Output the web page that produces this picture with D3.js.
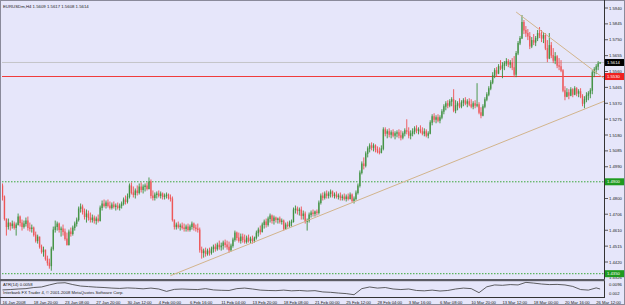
<!DOCTYPE html>
<html>
<head>
<meta charset="utf-8">
<script src="https://cdn.jsdelivr.net/npm/d3@7"></script>
<style>
  body { margin: 0; background: #e6e6fa; }
  svg { display: block; }
  text { font-family: "Liberation Sans", Arial, sans-serif; }
</style>
</head>
<body>
<svg id="chart" width="625" height="305"></svg>
<script>
// EURUSD H4 bars (open = previous close)
const symbol = "EURUSDm,H4";
const lastQuote = [1.5609, 1.5617, 1.5608, 1.5614];
const firstOpen = 1.4878;

const highs = [
  1.4890,1.4818,1.4668,1.4680,1.4656,1.4668,1.4662,1.4656,1.4710,1.4698,
  1.4674,1.4668,1.4686,1.4692,1.4656,1.4644,1.4632,1.4602,1.4584,1.4572,
  1.4524,1.4512,1.4494,1.4458,1.4440,1.4512,1.4632,1.4668,1.4662,1.4656,
  1.4632,1.4644,1.4620,1.4596,1.4614,1.4626,1.4638,1.4662,1.4686,1.4752,
  1.4770,1.4764,1.4740,1.4734,1.4728,1.4716,1.4704,1.4698,1.4692,1.4704,
  1.4758,1.4788,1.4794,1.4788,1.4794,1.4782,1.4776,1.4782,1.4770,1.4776,
  1.4770,1.4782,1.4806,1.4818,1.4830,1.4890,1.4896,1.4872,1.4860,1.4878,
  1.4890,1.4896,1.4884,1.4890,1.4896,1.4926,1.4914,1.4848,1.4836,1.4842,
  1.4848,1.4842,1.4836,1.4830,1.4836,1.4830,1.4824,1.4812,1.4668,1.4656,
  1.4662,1.4650,1.4656,1.4650,1.4644,1.4650,1.4644,1.4662,1.4656,1.4644,
  1.4650,1.4626,1.4512,1.4500,1.4506,1.4500,1.4506,1.4512,1.4524,1.4530,
  1.4536,1.4548,1.4536,1.4548,1.4554,1.4548,1.4542,1.4530,1.4566,1.4608,
  1.4602,1.4596,1.4590,1.4590,1.4584,1.4578,1.4584,1.4572,1.4578,1.4572,
  1.4608,1.4626,1.4638,1.4656,1.4674,1.4680,1.4692,1.4710,1.4704,1.4698,
  1.4692,1.4686,1.4692,1.4680,1.4674,1.4656,1.4662,1.4668,1.4674,1.4746,
  1.4758,1.4752,1.4746,1.4752,1.4728,1.4722,1.4680,1.4716,1.4728,1.4734,
  1.4728,1.4734,1.4788,1.4830,1.4836,1.4842,1.4848,1.4842,1.4854,1.4848,
  1.4836,1.4842,1.4830,1.4836,1.4824,1.4830,1.4824,1.4830,1.4836,1.4830,
  1.4812,1.4848,1.4890,1.4968,1.5022,1.5046,1.5082,1.5112,1.5130,1.5136,
  1.5130,1.5124,1.5112,1.5106,1.5118,1.5226,1.5226,1.5214,1.5220,1.5208,
  1.5214,1.5202,1.5208,1.5214,1.5208,1.5202,1.5220,1.5274,1.5226,1.5208,
  1.5220,1.5232,1.5238,1.5226,1.5238,1.5226,1.5220,1.5214,1.5202,1.5268,
  1.5304,1.5310,1.5298,1.5304,1.5298,1.5334,1.5364,1.5382,1.5388,1.5394,
  1.5406,1.5454,1.5388,1.5382,1.5400,1.5388,1.5400,1.5406,1.5394,1.5400,
  1.5394,1.5382,1.5388,1.5490,1.5376,1.5346,1.5364,1.5406,1.5436,1.5472,
  1.5508,1.5556,1.5580,1.5586,1.5604,1.5628,1.5616,1.5622,1.5640,1.5634,
  1.5628,1.5640,1.5652,1.5682,1.5742,1.5772,1.5898,1.5868,1.5832,1.5814,
  1.5796,1.5766,1.5784,1.5772,1.5808,1.5826,1.5808,1.5796,1.5790,1.5748,
  1.5790,1.5736,1.5700,1.5676,1.5658,1.5640,1.5628,1.5574,1.5472,1.5460,
  1.5454,1.5466,1.5460,1.5472,1.5466,1.5454,1.5460,1.5424,1.5412,1.5436,
  1.5442,1.5460,1.5568,1.5586,1.5604,1.5622,1.5617
];

const lows = [
  1.4788,1.4668,1.4578,1.4614,1.4608,1.4620,1.4614,1.4578,1.4638,1.4632,
  1.4608,1.4620,1.4632,1.4608,1.4602,1.4596,1.4572,1.4536,1.4530,1.4500,
  1.4470,1.4452,1.4428,1.4398,1.4380,1.4368,1.4488,1.4596,1.4608,1.4596,
  1.4572,1.4578,1.4548,1.4518,1.4518,1.4572,1.4578,1.4608,1.4632,1.4662,
  1.4716,1.4704,1.4674,1.4656,1.4668,1.4656,1.4656,1.4650,1.4644,1.4656,
  1.4662,1.4728,1.4746,1.4740,1.4746,1.4734,1.4734,1.4740,1.4728,1.4734,
  1.4728,1.4740,1.4758,1.4764,1.4770,1.4800,1.4824,1.4806,1.4800,1.4818,
  1.4824,1.4836,1.4830,1.4842,1.4848,1.4854,1.4800,1.4788,1.4788,1.4800,
  1.4806,1.4800,1.4794,1.4794,1.4800,1.4794,1.4782,1.4662,1.4614,1.4614,
  1.4620,1.4608,1.4614,1.4602,1.4602,1.4602,1.4602,1.4614,1.4608,1.4602,
  1.4596,1.4476,1.4440,1.4446,1.4452,1.4458,1.4458,1.4464,1.4476,1.4482,
  1.4488,1.4494,1.4488,1.4494,1.4506,1.4494,1.4476,1.4482,1.4506,1.4542,
  1.4548,1.4536,1.4530,1.4536,1.4530,1.4530,1.4536,1.4530,1.4530,1.4536,
  1.4554,1.4572,1.4584,1.4596,1.4620,1.4626,1.4632,1.4656,1.4650,1.4644,
  1.4656,1.4650,1.4650,1.4644,1.4608,1.4614,1.4626,1.4626,1.4632,1.4656,
  1.4710,1.4704,1.4698,1.4674,1.4674,1.4650,1.4608,1.4656,1.4686,1.4692,
  1.4692,1.4698,1.4704,1.4764,1.4788,1.4794,1.4800,1.4800,1.4806,1.4806,
  1.4800,1.4800,1.4794,1.4788,1.4788,1.4788,1.4782,1.4788,1.4794,1.4776,
  1.4770,1.4788,1.4824,1.4866,1.4944,1.4974,1.4986,1.5046,1.5076,1.5088,
  1.5082,1.5076,1.5070,1.5064,1.5070,1.5088,1.5172,1.5160,1.5166,1.5160,
  1.5166,1.5154,1.5166,1.5160,1.5148,1.5154,1.5172,1.5184,1.5160,1.5154,
  1.5172,1.5184,1.5190,1.5184,1.5190,1.5178,1.5172,1.5166,1.5160,1.5184,
  1.5238,1.5256,1.5250,1.5256,1.5250,1.5274,1.5304,1.5328,1.5340,1.5346,
  1.5352,1.5316,1.5310,1.5328,1.5340,1.5340,1.5352,1.5358,1.5346,1.5352,
  1.5340,1.5334,1.5340,1.5346,1.5304,1.5280,1.5292,1.5340,1.5382,1.5412,
  1.5448,1.5484,1.5520,1.5532,1.5544,1.5568,1.5520,1.5568,1.5592,1.5586,
  1.5580,1.5568,1.5526,1.5526,1.5658,1.5718,1.5754,1.5784,1.5766,1.5748,
  1.5694,1.5700,1.5718,1.5712,1.5742,1.5760,1.5736,1.5730,1.5688,1.5616,
  1.5634,1.5640,1.5610,1.5604,1.5580,1.5568,1.5556,1.5436,1.5388,1.5406,
  1.5394,1.5412,1.5406,1.5418,1.5412,1.5406,1.5400,1.5352,1.5340,1.5376,
  1.5388,1.5400,1.5424,1.5526,1.5544,1.5568,1.5608
];

const closes = [
  1.4812,1.4680,1.4632,1.4656,1.4638,1.4650,1.4626,1.4644,1.4692,1.4656,
  1.4632,1.4650,1.4668,1.4626,1.4620,1.4626,1.4584,1.4548,1.4572,1.4512,
  1.4482,1.4494,1.4440,1.4416,1.4398,1.4500,1.4614,1.4632,1.4650,1.4614,
  1.4620,1.4602,1.4560,1.4524,1.4602,1.4590,1.4626,1.4650,1.4674,1.4740,
  1.4752,1.4722,1.4692,1.4710,1.4686,1.4674,1.4686,1.4668,1.4680,1.4668,
  1.4746,1.4770,1.4758,1.4776,1.4758,1.4746,1.4764,1.4752,1.4758,1.4746,
  1.4758,1.4770,1.4794,1.4782,1.4812,1.4878,1.4836,1.4824,1.4848,1.4836,
  1.4872,1.4854,1.4872,1.4878,1.4860,1.4902,1.4818,1.4806,1.4824,1.4830,
  1.4818,1.4830,1.4812,1.4818,1.4824,1.4806,1.4800,1.4674,1.4632,1.4644,
  1.4632,1.4638,1.4626,1.4620,1.4632,1.4614,1.4632,1.4650,1.4626,1.4620,
  1.4614,1.4494,1.4476,1.4488,1.4470,1.4488,1.4476,1.4500,1.4512,1.4500,
  1.4524,1.4512,1.4518,1.4536,1.4524,1.4512,1.4494,1.4518,1.4554,1.4596,
  1.4566,1.4548,1.4572,1.4554,1.4542,1.4566,1.4548,1.4560,1.4548,1.4566,
  1.4596,1.4614,1.4602,1.4644,1.4662,1.4644,1.4680,1.4698,1.4668,1.4686,
  1.4674,1.4680,1.4662,1.4668,1.4620,1.4644,1.4638,1.4656,1.4662,1.4734,
  1.4740,1.4728,1.4734,1.4698,1.4710,1.4662,1.4668,1.4704,1.4716,1.4710,
  1.4722,1.4716,1.4776,1.4818,1.4806,1.4830,1.4818,1.4830,1.4842,1.4818,
  1.4824,1.4812,1.4818,1.4806,1.4812,1.4800,1.4812,1.4800,1.4824,1.4788,
  1.4800,1.4836,1.4878,1.4956,1.5010,1.4998,1.5070,1.5100,1.5118,1.5106,
  1.5118,1.5094,1.5082,1.5076,1.5100,1.5214,1.5190,1.5202,1.5184,1.5196,
  1.5178,1.5190,1.5196,1.5178,1.5166,1.5190,1.5208,1.5202,1.5178,1.5190,
  1.5202,1.5220,1.5208,1.5214,1.5202,1.5190,1.5202,1.5178,1.5190,1.5256,
  1.5292,1.5274,1.5286,1.5268,1.5286,1.5322,1.5352,1.5370,1.5358,1.5382,
  1.5394,1.5328,1.5358,1.5370,1.5352,1.5376,1.5388,1.5370,1.5382,1.5364,
  1.5352,1.5370,1.5358,1.5364,1.5316,1.5298,1.5352,1.5394,1.5424,1.5460,
  1.5496,1.5538,1.5568,1.5550,1.5592,1.5580,1.5598,1.5610,1.5622,1.5604,
  1.5616,1.5586,1.5544,1.5670,1.5730,1.5760,1.5856,1.5808,1.5790,1.5772,
  1.5712,1.5748,1.5736,1.5760,1.5790,1.5778,1.5760,1.5778,1.5700,1.5640,
  1.5718,1.5658,1.5628,1.5652,1.5598,1.5592,1.5568,1.5448,1.5412,1.5436,
  1.5418,1.5454,1.5424,1.5460,1.5430,1.5442,1.5412,1.5370,1.5394,1.5418,
  1.5430,1.5448,1.5556,1.5574,1.5592,1.5609,1.5614
];

// one time label every 16 bars
const timeLabels = [
  "16 Jan 2008", "18 Jan 20:00", "23 Jan 08:00", "27 Jan 20:00", "30 Jan 12:00",
  "4 Feb 00:00", "6 Feb 16:00", "11 Feb 04:00", "13 Feb 20:00", "18 Feb 08:00",
  "21 Feb 00:00", "25 Feb 12:00", "28 Feb 04:00", "3 Mar 16:00", "6 Mar 08:00",
  "10 Mar 20:00", "13 Mar 12:00", "18 Mar 00:00", "20 Mar 16:00", "26 Mar 12:00"
];
const labelStep = 16;

// 1.4895 sits under the 1.4900 box and is not visible, so it is left out
const priceTicks = [
  1.5940, 1.5845, 1.5750, 1.5655, 1.5560, 1.5465, 1.5370, 1.5275, 1.5180,
  1.5085, 1.4990, 1.4800, 1.4706, 1.4610, 1.4515, 1.4420
];
const bottomPrice = 1.4326;

// ATR(14), read every 4 bars, last value on the final bar
const atrValues = [
  0.0053,0.0055,0.0058,0.0060,0.0066,0.0069,0.0080,0.0090,0.0092,0.0082,
  0.0074,0.0071,0.0068,0.0066,0.0063,0.0061,0.0064,0.0062,0.0059,0.0063,
  0.0058,0.0045,0.0056,0.0058,0.0056,0.0055,0.0060,0.0053,0.0051,0.0050,
  0.0060,0.0063,0.0058,0.0052,0.0050,0.0049,0.0052,0.0048,0.0050,0.0047,
  0.0049,0.0042,0.0040,0.0036,0.0033,0.0027,0.0060,0.0069,0.0063,0.0066,
  0.0058,0.0055,0.0058,0.0050,0.0048,0.0052,0.0047,0.0050,0.0058,0.0063,
  0.0060,0.0038,0.0070,0.0080,0.0078,0.0082,0.0080,0.0094,0.0090,0.0085,
  0.0082,0.0083,0.0080,0.0072,0.0055,0.0052,0.0064,0.0058
];
const atrStep = 4;
const atrMax = 0.0096, atrMin = 0.002;

// horizontal objects
const levels = [
  { price: 1.5614, kind: "bid" },
  { price: 1.5530, kind: "alert" },
  { price: 1.4900, kind: "support" },
  { price: 1.4350, kind: "support" }
];
// trend lines: [bar index, price] anchors, drawn as rays to the right
const trendLines = [
  [[86, 1.4338], [180, 1.4780]],
  [[263, 1.5916], [306, 1.5536]]
];

const W = 625, H = 305;
const plot = { left: 2, right: 604, top: 2, bottom: 278 };
const atrBox = { top: 282, bottom: 296 };

const svg = d3.select("#chart");

const x = d3.scaleLinear().domain([0, closes.length - 1]).range([2.5, 600.1]);
const y = d3.scaleLinear().domain([1.4420, 1.5940]).range([262, 8]);
const yAtr = d3.scaleLinear().domain([atrMin, atrMax]).range([atrBox.bottom, atrBox.top]);

const bars = closes.map((c, i) => ({
  i, o: i ? closes[i - 1] : firstOpen, h: highs[i], l: lows[i], c
}));

// frame
svg.append("rect").attr("x", 0.5).attr("y", 0.5).attr("width", W - 1).attr("height", H - 1)
  .attr("fill", "#e6e6fa").attr("stroke", "#8a8a9a");

svg.append("defs").append("clipPath").attr("id", "plotClip")
  .append("rect").attr("x", plot.left).attr("y", plot.top)
  .attr("width", plot.right - plot.left).attr("height", plot.bottom - plot.top);

const g = svg.append("g").attr("clip-path", "url(#plotClip)");

// horizontal lines
const levelStyle = {
  bid: { stroke: "#c4c4c8", dash: null },
  alert: { stroke: "#f03c3c", dash: null },
  support: { stroke: "#3aa83a", dash: "1.5,1.5" }
};
levels.forEach(lv => {
  const st = levelStyle[lv.kind];
  g.append("line")
    .attr("x1", plot.left).attr("x2", plot.right)
    .attr("y1", y(lv.price)).attr("y2", y(lv.price))
    .attr("stroke", st.stroke).attr("stroke-width", 1)
    .attr("stroke-dasharray", st.dash);
});

// bars
const upColor = "#3a8e3a", downColor = "#ee5050";
g.selectAll("line.wick").data(bars).join("line")
  .attr("class", "wick")
  .attr("x1", d => x(d.i)).attr("x2", d => x(d.i))
  .attr("y1", d => y(Math.max(d.h, d.o, d.c))).attr("y2", d => y(Math.min(d.l, d.o, d.c)))
  .attr("stroke", d => d.c >= d.o ? upColor : downColor)
  .attr("stroke-width", 0.9);

g.selectAll("line.body").data(bars).join("line")
  .attr("class", "body")
  .attr("x1", d => x(d.i)).attr("x2", d => x(d.i))
  .attr("y1", d => y(Math.max(d.o, d.c))).attr("y2", d => y(Math.min(d.o, d.c)) + 0.5)
  .attr("stroke", d => d.c >= d.o ? upColor : downColor)
  .attr("stroke-opacity", 0.75)
  .attr("stroke-width", 1.5);

// trend lines (rays)
trendLines.forEach(([a, b]) => {
  const slope = (b[1] - a[1]) / (b[0] - a[0]);
  const iEnd = x.invert(plot.right);
  g.append("line")
    .attr("x1", x(a[0])).attr("y1", y(a[1]))
    .attr("x2", x(iEnd)).attr("y2", y(a[1] + slope * (iEnd - a[0])))
    .attr("stroke", "#d2b48c").attr("stroke-width", 1);
});

// header
svg.append("text").attr("x", 3).attr("y", 7.5)
  .attr("font-size", 4.3).attr("fill", "#222")
  .text(symbol + "  " + lastQuote.map(v => v.toFixed(4)).join(" "));

// price axis
svg.append("line").attr("x1", plot.right + 0.5).attr("x2", plot.right + 0.5)
  .attr("y1", 0).attr("y2", 297.5).attr("stroke", "#333").attr("stroke-width", 1);

const axisG = svg.append("g");
axisG.selectAll("line.tick").data(priceTicks).join("line")
  .attr("x1", plot.right + 1).attr("x2", plot.right + 4)
  .attr("y1", d => y(d)).attr("y2", d => y(d))
  .attr("stroke", "#333").attr("stroke-width", 0.8);
axisG.selectAll("text.tick").data(priceTicks.concat([bottomPrice])).join("text")
  .attr("x", 609).attr("y", d => y(d) + 1.5)
  .attr("font-size", 4.2).attr("fill", "#222")
  .text(d => d.toFixed(4));

// price boxes for the horizontal objects
const boxFill = { bid: "#000000", alert: "#f02020", support: "#1f9a1f" };
levels.forEach(lv => {
  axisG.append("rect")
    .attr("x", plot.right + 1).attr("y", y(lv.price) - 3.5)
    .attr("width", W - plot.right - 2).attr("height", 7)
    .attr("fill", boxFill[lv.kind]);
  axisG.append("text")
    .attr("x", 607).attr("y", y(lv.price) + 1.5)
    .attr("font-size", 4.2).attr("fill", "#fff")
    .text(lv.price.toFixed(4));
});

// separator between windows
svg.append("rect").attr("x", 0).attr("y", 279).attr("width", plot.right + 1).attr("height", 2.2)
  .attr("fill", "#5c5c64");

// ATR window
const atrPts = atrValues.map((v, k) => [Math.min(k * atrStep, closes.length - 1), v]);
svg.append("path")
  .datum(atrPts)
  .attr("d", d3.line().x(d => x(d[0])).y(d => yAtr(d[1])))
  .attr("fill", "none").attr("stroke", "#3a3a3a").attr("stroke-width", 0.8);

svg.append("text").attr("x", 3).attr("y", 285.5)
  .attr("font-size", 4.2).attr("fill", "#222")
  .text("ATR(14) " + atrValues[atrValues.length - 1].toFixed(4));
svg.append("text").attr("x", 3).attr("y", 293.5)
  .attr("font-size", 4.2).attr("fill", "#222")
  .text("Interbank FX Trader 4, \u00a9 2001-2008 MetaQuotes Software Corp.");

svg.append("text").attr("x", 609).attr("y", 285.5)
  .attr("font-size", 4.2).attr("fill", "#222").text(atrMax.toFixed(4));
svg.append("text").attr("x", 609).attr("y", 294.5)
  .attr("font-size", 4.2).attr("fill", "#222").text(String(atrMin));

// time axis
svg.append("line").attr("x1", 0).attr("x2", plot.right + 1)
  .attr("y1", 297.5).attr("y2", 297.5).attr("stroke", "#333").attr("stroke-width", 1);

svg.append("g").selectAll("text").data(timeLabels).join("text")
  .attr("x", (d, k) => x(k * labelStep))
  .attr("y", 303.5)
  .attr("font-size", 4.2).attr("fill", "#222")
  .text(d => d);
</script>
</body>
</html>
